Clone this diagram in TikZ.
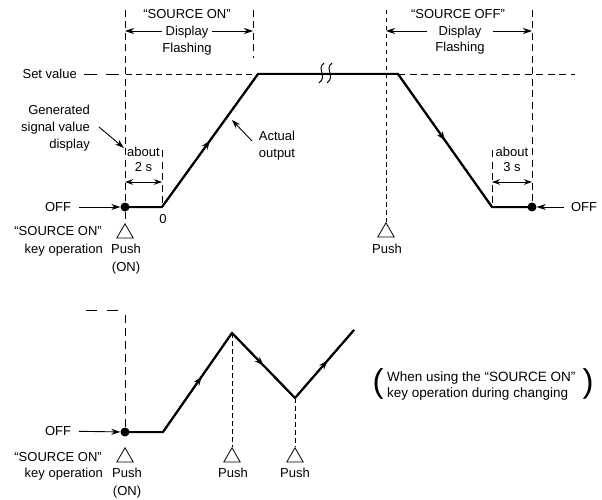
\documentclass[tikz,border=0pt]{standalone}
\usepackage{fontspec}
\setmainfont{Liberation Sans}
\usetikzlibrary{arrows.meta,shapes.geometric,decorations.markings}
\begin{document}
\begin{tikzpicture}[x=1pt,y=-1pt,
  txt/.style={inner sep=0pt, text height=9.3pt, text depth=0pt, font=\fontsize{13}{16}\selectfont},
  dsh/.style={line width=0.9pt, dash pattern=on 7pt off 4.5pt},
  fdsh/.style={line width=0.8pt, dash pattern=on 4.5pt off 3.5pt},
  sig/.style={line width=2pt, line join=miter},
  arr/.style={line width=0.9pt, -{Stealth[length=9pt,width=6pt]}},
  darr/.style={line width=0.9pt, {Stealth[length=8pt,width=5.5pt]}-{Stealth[length=8pt,width=5.5pt]}},
  midarrow/.style={decoration={markings, mark=at position #1 with {\arrow{Stealth[length=9pt,width=6.5pt]}}}, postaction={decorate}},
  dotnode/.style={circle, fill, inner sep=0pt, minimum size=9pt},
  pushtri/.style={regular polygon, regular polygon sides=3, draw, line width=0.8pt, inner sep=0pt, minimum size=19pt, anchor=corner 1},
  brk/.style={line width=1pt}
]
\useasboundingbox (0,0) rectangle (602,500);

% ---------------- top diagram ----------------
% headings
\node[txt] (son) at (187,14) {“SOURCE ON”};
\node[txt, outer sep=4pt] (dsp1) at (187,31) {Display};
\node[txt] (fl1) at (187,48) {Flashing};
\node[txt] (soff) at (458,14) {“SOURCE OFF”};
\node[txt, outer sep=12pt] (dsp2) at (460,31) {Display};
\node[txt] (fl2) at (460,47) {Flashing};

% key coordinates
\node[dotnode] (d1) at (125,207) {};
\node[dotnode] (d2) at (532,207) {};
\coordinate (a0) at (162,207);
\coordinate (a1) at (258,74);
\coordinate (a2) at (398,74);
\coordinate (a3) at (492,207);

% vertical dashed lines
\coordinate (v1t) at (125,10);
\coordinate (v2t) at (253,10);
\coordinate (v2b) at (253,58);
\coordinate (v3t) at (386,10);
\coordinate (v4t) at (532,10);
\coordinate (v5t) at (162,150);
\coordinate (v5b) at (162,205);
\coordinate (v6t) at (492,150);
\coordinate (v6b) at (492,205);
\node[pushtri] (t1) at (125,223) {};
\node[pushtri] (t2) at (386,222) {};
\draw[dsh] (v1t) -- (d1);
\draw[dsh] (d1) -- (t1.corner 1);
\draw[dsh] (v2t) -- (v2b);
\draw[fdsh] (v3t) -- (t2.corner 1);
\draw[dsh] (v4t) -- (d2);
\draw[dsh] (v5t) -- (v5b);
\draw[dsh] (v6t) -- (v6b);

% display arrows
\coordinate (v1a) at (125,31);
\coordinate (v2a) at (253,31);
\coordinate (v3a) at (386,31);
\coordinate (v4a) at (532,31);
\draw[arr] (dsp1) -- (v1a);
\draw[arr] (dsp1) -- (v2a);
\draw[arr] (dsp2) -- (v3a);
\draw[arr] (dsp2) -- (v4a);

% set value line
\node[txt, anchor=east] (setv) at (77,74) {Set value};
\coordinate (s0) at (84,74);
\coordinate (s1) at (122,74);
\coordinate (s2) at (126,74);
\coordinate (s3) at (575,74);
\draw[line width=0.9pt, dash pattern=on 13pt off 9pt] (s0) -- (s1);
\draw[line width=0.9pt, dash pattern=on 6pt off 4pt] (s2) -- (a1);
\draw[line width=0.9pt, dash pattern=on 7pt off 4.5pt] (a2) -- (s3);

% signal
\draw[sig] (d1.center) -- (a0) -- (a1) -- (a2) -- (a3) -- (d2.center);
\draw[sig, midarrow=0.5] (a0) -- (a1);
\draw[sig, midarrow=0.5] (a2) -- (a3);

% break symbol
\draw[brk] (324,63) .. controls (316,69) and (328,76) .. (319,83);
\draw[brk] (332,63) .. controls (324,69) and (336,76) .. (327,83);

% generated signal value display
\node[txt, anchor=east] (gen1) at (90,110) {Generated};
\node[txt, anchor=east] (gen2) at (90,127) {signal value};
\node[txt, anchor=east] (gen3) at (90,144) {display};
\coordinate (g1) at (99,127);
\coordinate (g2) at (124,148);
\draw[arr] (g1) -- (g2);

% actual output
\node[txt] (act1) at (277,136) {Actual};
\node[txt] (act2) at (277,153) {output};
\coordinate (o1) at (252,141);
\coordinate (o2) at (232,120);
\draw[arr] (o1) -- (o2);

% about 2 s / 3 s
\node[txt] (ab1) at (143.5,152) {about};
\node[txt] (tw1) at (143.5,167) {2 s};
\coordinate (b1) at (125,182);
\coordinate (b2) at (162,182);
\draw[darr] (b1) -- (b2);
\node[txt] (ab2) at (512,152) {about};
\node[txt] (tw2) at (512,167) {3 s};
\coordinate (b3) at (492,182);
\coordinate (b4) at (532,182);
\draw[darr] (b3) -- (b4);

% zero
\node[txt] (zero) at (163,219) {0};

% OFF arrows
\node[txt, outer sep=8pt] (off1) at (58,207) {OFF};
\draw[arr] (off1) -- (d1);
\node[txt, outer sep=7pt] (off2) at (584,207) {OFF};
\draw[arr] (off2) -- (d2);

% key operation labels
\node[txt, anchor=east] (kso1) at (102,231) {“SOURCE ON”};
\node[txt, anchor=east] (kop1) at (103,249) {key operation};
\node[txt] (pu1) at (126,249) {Push};
\node[txt] (on1) at (126,267) {(ON)};
\node[txt] (pu2) at (387,249) {Push};

% ---------------- bottom diagram ----------------
\coordinate (e0) at (86,310);
\coordinate (e1) at (118,310);
\draw[line width=0.9pt, dash pattern=on 11pt off 10pt] (e0) -- (e1);
\coordinate (w0) at (125,315);
\node[dotnode] (d3) at (125,432) {};
\draw[line width=0.9pt, dash pattern=on 8pt off 5pt] (w0) -- (d3);

\coordinate (c0) at (163,432);
\coordinate (c1) at (232,333);
\coordinate (c2) at (295,398);
\coordinate (c3) at (354,330);
\draw[sig] (d3.center) -- (c0) -- (c1) -- (c2) -- (c3);
\draw[sig, midarrow=0.56] (c0) -- (c1);
\draw[sig, midarrow=0.5] (c1) -- (c2);
\draw[sig, midarrow=0.55] (c2) -- (c3);

\node[pushtri] (t3) at (125,447) {};
\node[pushtri] (t4) at (232,447) {};
\node[pushtri] (t5) at (295,447) {};
\draw[fdsh] (c1) -- (t4.corner 1);
\draw[fdsh] (c2) -- (t5.corner 1);

\node[txt, outer sep=8pt] (off3) at (58,431) {OFF};
\draw[arr] (off3) -- (d3);

\node[txt, anchor=east] (kso2) at (102,457) {“SOURCE ON”};
\node[txt, anchor=east] (kop2) at (103,473) {key operation};
\node[txt] (pu3) at (127,473) {Push};
\node[txt] (on3) at (127,491) {(ON)};
\node[txt] (pu4) at (233,473) {Push};
\node[txt] (pu5) at (295,473) {Push};

% note
\node[txt, anchor=west, font=\fontsize{13.5}{16}\selectfont] (n1) at (387,377) {When using the “SOURCE ON”};
\node[txt, anchor=west, font=\fontsize{13.5}{16}\selectfont] (n2) at (387,393) {key operation during changing};
\node[inner sep=0pt, font=\fontsize{33}{33}\selectfont] (pl) at (378,384) {(};
\node[inner sep=0pt, font=\fontsize{33}{33}\selectfont] (pr) at (588,384) {)};
\end{tikzpicture}
\end{document}
